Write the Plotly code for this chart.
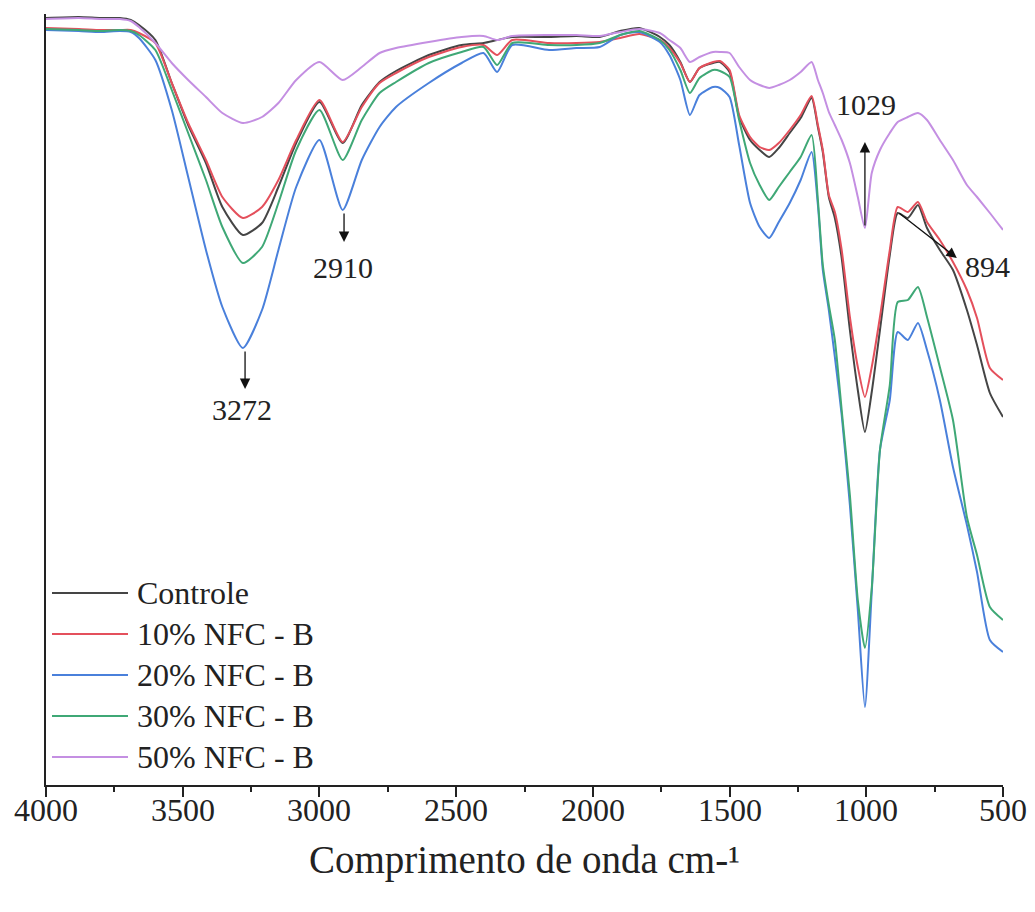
import plotly.graph_objects as go

# ---- data (wavenumber in cm-1, transmittance in arbitrary units) ----
wavenumber = [4000, 3880, 3800, 3730, 3690, 3660, 3600, 3540, 3480, 3415,
              3355, 3280, 3210, 3150, 3085, 3000, 2915, 2845, 2780, 2720,
              2600, 2480, 2400, 2350, 2295, 2160, 2060, 1975, 1900, 1830,
              1755, 1720, 1680, 1645, 1610, 1560, 1535, 1500, 1465, 1425,
              1390, 1355, 1320, 1280, 1240, 1200, 1177, 1159, 1137, 1115,
              1090, 1060, 1031, 1005, 980, 950, 914, 885, 848, 811,
              778, 731, 683, 632, 595, 548, 500]

controle = [76.7, 76.8, 76.7, 76.7, 76.5, 76.0, 74.5, 70.2, 66.0, 62.2,
            57.8, 55.0, 56.2, 59.8, 64.2, 68.3, 64.2, 68.0, 70.3, 71.4,
            73.0, 74.0, 74.2, 74.5, 74.8, 74.8, 74.9, 74.8, 75.4, 75.7,
            74.8, 74.0, 72.3, 70.3, 71.7, 72.2, 72.3, 71.3, 66.8, 64.5,
            63.5, 62.8, 63.7, 65.2, 66.7, 68.7, 65.8, 63.3, 58.8, 56.7,
            52.7, 45.5, 39.5, 35.3, 39.3, 45.5, 53.0, 57.2, 56.7, 58.0,
            55.7, 53.5, 51.5, 47.5, 44.0, 39.2, 36.8]

nfc10 = [75.7, 75.6, 75.5, 75.5, 75.5, 75.2, 74.2, 70.2, 66.2, 62.5,
         58.8, 56.7, 57.8, 60.5, 64.5, 68.5, 64.3, 67.8, 70.2, 71.2,
         72.8, 73.8, 74.0, 73.0, 74.5, 74.2, 74.2, 74.3, 74.7, 75.1,
         74.5, 73.7, 72.2, 70.3, 71.7, 72.3, 72.4, 71.5, 67.0, 64.8,
         63.8, 63.5, 64.2, 65.5, 67.0, 68.9, 66.0, 63.5, 59.0, 57.3,
         53.5, 46.8, 41.8, 38.8, 41.8, 46.8, 53.5, 57.8, 57.3, 58.3,
         56.3, 54.5, 52.3, 49.5, 46.7, 41.7, 40.5]

nfc20 = [75.5, 75.4, 75.3, 75.4, 75.3, 74.7, 72.5, 67.5, 60.8, 53.5,
         47.8, 43.7, 47.5, 53.5, 59.8, 64.5, 57.5, 62.5, 65.8, 67.8,
         70.2, 72.2, 73.2, 71.3, 74.0, 73.5, 73.7, 73.8, 75.0, 75.3,
         74.3, 73.0, 70.5, 67.0, 69.0, 69.8, 69.7, 68.8, 64.0, 58.2,
         55.8, 54.7, 56.3, 58.2, 60.5, 63.3, 58.0, 51.5, 47.5, 42.8,
         37.0, 28.0, 17.5, 7.8, 19.3, 33.5, 38.5, 45.3, 44.5, 46.2,
         43.5, 38.5, 31.8, 26.0, 21.3, 14.5, 13.3]

nfc30 = [75.6, 75.5, 75.4, 75.5, 75.4, 75.0, 73.5, 69.5, 65.2, 60.5,
         55.8, 52.2, 53.8, 58.2, 63.5, 67.5, 62.5, 66.5, 69.2, 70.3,
         72.2, 73.3, 73.8, 72.0, 74.2, 74.0, 74.0, 74.2, 75.0, 75.4,
         74.5, 73.5, 71.5, 69.2, 70.7, 71.5, 71.4, 70.8, 66.5, 62.2,
         60.0, 58.5, 59.8, 61.3, 62.8, 65.0, 58.5, 52.0, 48.0, 44.5,
         37.5, 29.0, 18.5, 13.7, 19.7, 33.5, 40.0, 48.3, 48.5, 49.8,
         46.8, 41.8, 36.5, 26.8, 23.0, 17.8, 16.5]

nfc50 = [76.6, 76.7, 76.6, 76.6, 76.4, 75.8, 74.2, 72.2, 70.5, 68.8,
         67.2, 66.2, 66.8, 68.2, 70.5, 72.3, 70.5, 71.8, 73.2, 73.7,
         74.3, 74.8, 74.9, 74.5, 74.9, 75.0, 75.0, 74.9, 75.3, 75.6,
         75.2, 74.5, 73.7, 72.3, 72.8, 73.3, 73.3, 73.2, 71.8, 70.5,
         70.0, 69.7, 70.0, 70.5, 71.3, 72.3, 70.5, 69.2, 67.3, 66.0,
         64.5, 62.2, 58.8, 55.7, 61.2, 63.5, 65.2, 66.3, 66.8, 67.2,
         66.5, 64.5, 62.5, 60.0, 58.8, 57.2, 55.5]

series_names = ["Controle", "10% NFC - B", "20% NFC - B", "30% NFC - B", "50% NFC - B"]
series_values = [controle, nfc10, nfc20, nfc30, nfc50]
series_colors = ["#454545", "#e4505c", "#4a80db", "#3fa876", "#c48fe2"]

x_ticks = [4000, 3500, 3000, 2500, 2000, 1500, 1000, 500]
x_title = "Comprimento de onda cm-¹"

# peak annotations: (label, tail_x, tail_y, head_x, head_y, text_x, text_y)
peaks = [
    ("3272", 3272, 43.5, 3272, 39.6, 3285, 37.6),
    ("2910", 2910, 57.3, 2910, 54.3, 2915, 51.8),
    ("1029", 1005, 55.8, 1005, 64.3, 1000, 68.1),
    ("894", 885, 57.3, 669, 52.7, 556, 51.9),
]

FONT = "Liberation Serif, Times New Roman, serif"
TXT = "#222222"

fig = go.Figure()
for name, vals, col in zip(series_names, series_values, series_colors):
    fig.add_trace(go.Scatter(
        x=wavenumber, y=vals, name=name, mode="lines",
        line=dict(color=col, width=2, shape="spline", smoothing=0.6),
        showlegend=False,
    ))

# manual legend (paper coords) to match long legend lines
PW, PH = 1003 - 46, 785 - 14
leg_rows_py = [593, 634, 675, 716, 757]
for name, col, py in zip(series_names, series_colors, leg_rows_py):
    yp = (785 - py) / PH
    fig.add_shape(type="line", xref="paper", yref="paper",
                  x0=(52 - 46) / PW, x1=(128 - 46) / PW, y0=yp, y1=yp,
                  line=dict(color=col, width=2))
    fig.add_annotation(xref="paper", yref="paper", x=(135 - 46) / PW, y=yp,
                       text=name, showarrow=False, xanchor="left", yanchor="middle",
                       font=dict(family=FONT, size=32, color=TXT))

for label, tx, ty, hx, hy, lx, ly in peaks:
    fig.add_annotation(x=hx, y=hy, ax=tx, ay=ty, xref="x", yref="y",
                       axref="x", ayref="y", text="", showarrow=True,
                       arrowhead=2, arrowsize=1.6, arrowwidth=1.3,
                       arrowcolor="#111111")
    fig.add_annotation(x=lx, y=ly, xref="x", yref="y", text=label,
                       showarrow=False, xanchor="center", yanchor="middle",
                       font=dict(family=FONT, size=30, color=TXT))

# tick labels placed close under the ticks, as in the reference
for v in x_ticks:
    fig.add_annotation(x=v, y=0, xref="x", yref="paper", text=str(v),
                       showarrow=False, xanchor="center", yanchor="middle",
                       yshift=-25, font=dict(family=FONT, size=32, color=TXT))
fig.add_annotation(x=0.5, y=0, xref="paper", yref="paper", text=x_title,
                   showarrow=False, xanchor="center", yanchor="middle",
                   yshift=-75, font=dict(family=FONT, size=39, color=TXT))

fig.update_layout(
    width=1035, height=912,
    margin=dict(l=46, r=32, t=14, b=127),
    paper_bgcolor="white", plot_bgcolor="white",
    font=dict(family=FONT, color=TXT),
    showlegend=False,
)
fig.update_xaxes(
    range=[4000, 500], tickvals=x_ticks, showticklabels=False,
    showline=True, linecolor=TXT, linewidth=2,
    ticks="outside", ticklen=10, tickwidth=2, tickcolor=TXT,
    minor=dict(ticks="outside", ticklen=5, tickwidth=2, tickcolor=TXT, dtick=250, tick0=500),
    showgrid=False, zeroline=False,
)
fig.update_yaxes(
    range=[0, 77.1], showline=True, linecolor=TXT, linewidth=2,
    showticklabels=False, ticks="", showgrid=False, zeroline=False,
)

fig.write_html("out.html")
